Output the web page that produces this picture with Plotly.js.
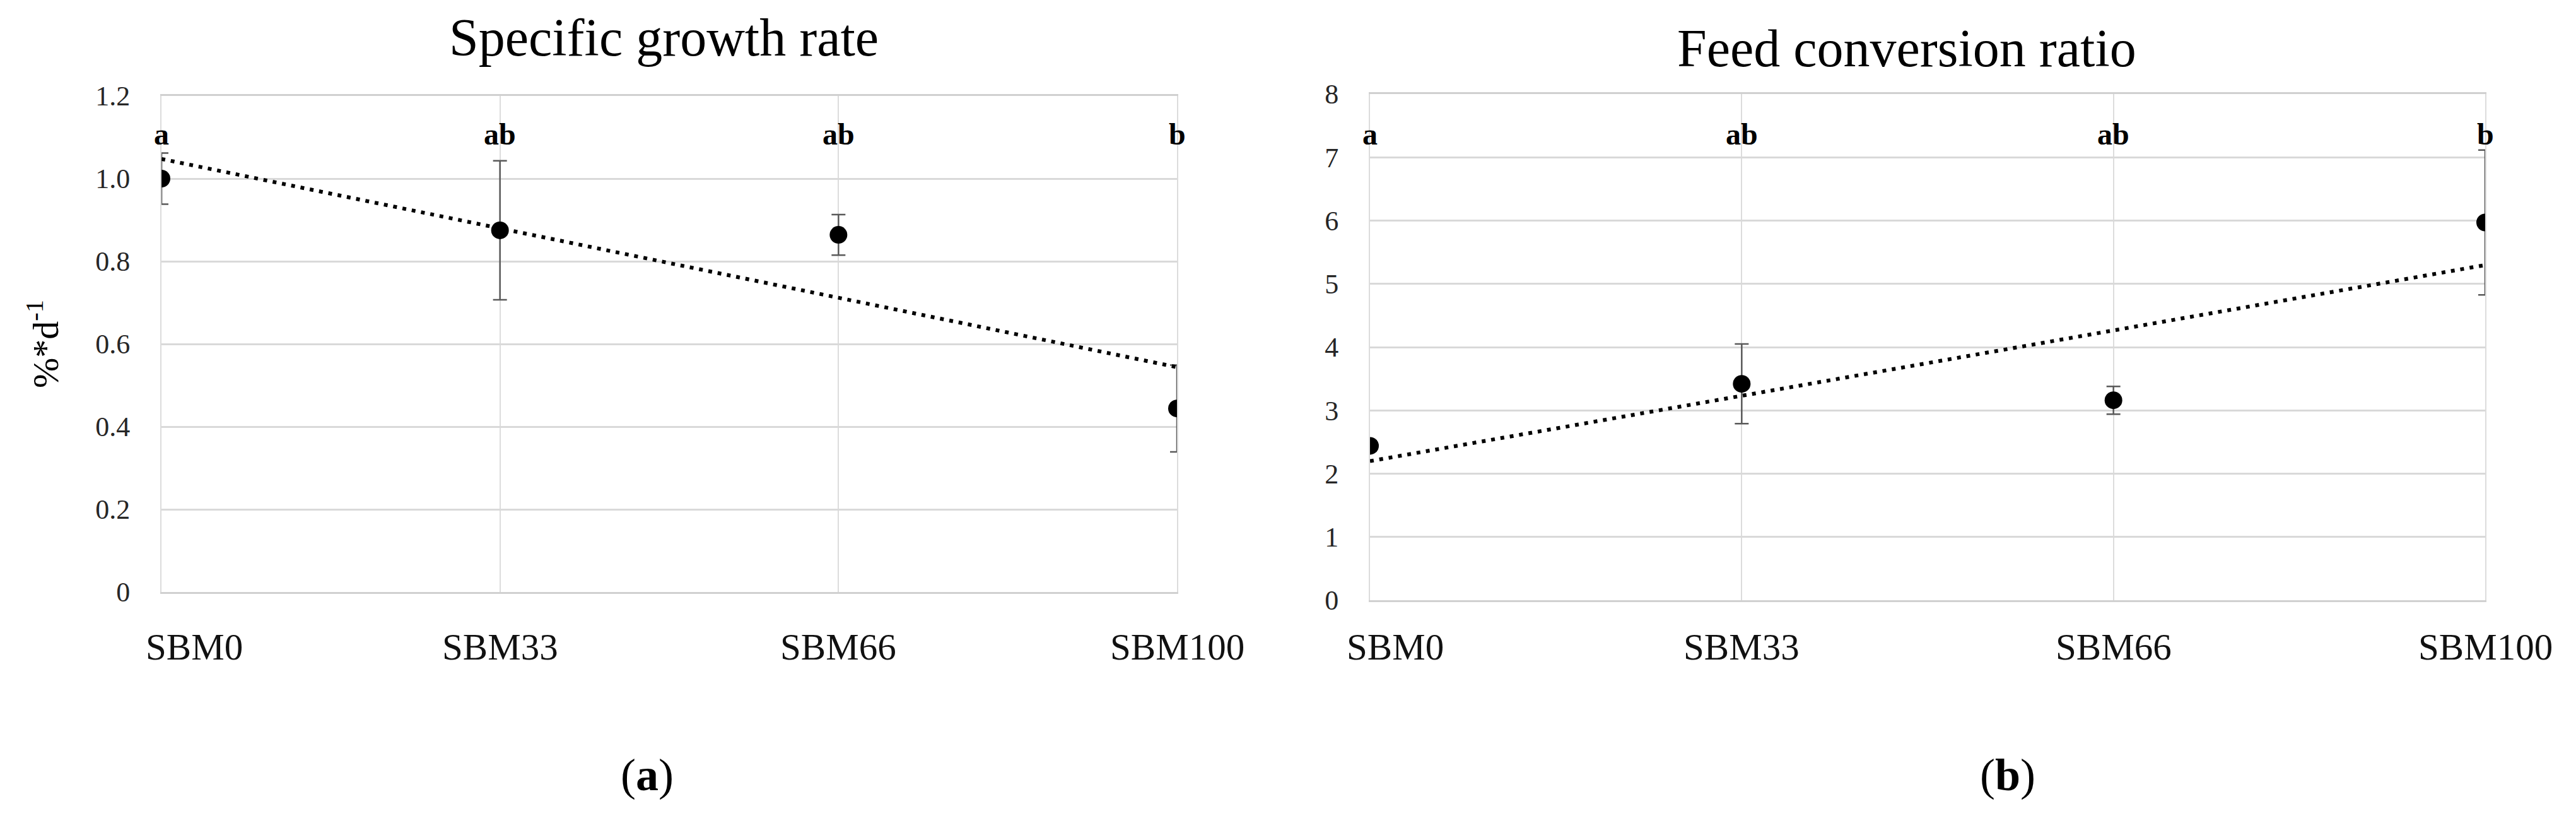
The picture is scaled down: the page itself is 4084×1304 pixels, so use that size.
<!DOCTYPE html>
<html><head><meta charset="utf-8">
<script src="https://cdn.plot.ly/plotly-3.0.1.min.js"></script>
<style>html,body{margin:0;padding:0;background:#fff}#chart{width:4084px;height:1304px}</style>
</head><body><div id="chart"></div>
<script>
// ---- data ----
const categories = ['SBM0', 'SBM33', 'SBM66', 'SBM100'];
const sgrMean = [1.00, 0.875, 0.864, 0.444];
const sgrErr = [0.062, 0.168, 0.049, 0.105];
const sgrLetters = ['a', 'ab', 'ab', 'b'];
const fcrMean = [2.44, 3.42, 3.16, 5.97];
const fcrErr = [0.08, 0.63, 0.22, 1.145];
const fcrLetters = ['a', 'ab', 'ab', 'b'];
const sgrTickVals = [0, 0.2, 0.4, 0.6, 0.8, 1.0, 1.2];
const sgrTickText = ['0', '0.2', '0.4', '0.6', '0.8', '1.0', '1.2'];
const fcrTickVals = [0, 1, 2, 3, 4, 5, 6, 7, 8];
const fcrTickText = ['0', '1', '2', '3', '4', '5', '6', '7', '8'];
const titleA = 'Specific growth rate';
const titleB = 'Feed conversion ratio';
const yTitleA = '%*d<sup>-1</sup>';

// linear (Excel-style) trendline from the data
function linFit(vals) {
  const n = vals.length;
  const xs = vals.map((_, i) => i);
  const mx = xs.reduce((a, b) => a + b, 0) / n;
  const my = vals.reduce((a, b) => a + b, 0) / n;
  let sxy = 0, sxx = 0;
  for (let i = 0; i < n; i++) { sxy += (xs[i] - mx) * (vals[i] - my); sxx += (xs[i] - mx) ** 2; }
  const slope = sxy / sxx;
  const icpt = my - slope * mx;
  return [icpt, icpt + slope * (n - 1)];
}

const FONT = 'Liberation Serif, Times New Roman, serif';
const errStyle = {type: 'data', visible: true, color: '#595959', thickness: 2.5, width: 11};

function traces(mean, err, xa, ya) {
  return [
    {type: 'scatter', mode: 'markers', x: categories, y: mean, xaxis: xa, yaxis: ya,
     error_y: Object.assign({array: err}, errStyle),
     marker: {color: '#000', size: 28}, showlegend: false},
    {type: 'scatter', mode: 'lines', x: [categories[0], categories[categories.length - 1]], y: linFit(mean),
     xaxis: xa, yaxis: ya, line: {color: '#000', width: 6, dash: '6px,9px'}, hoverinfo: 'skip', showlegend: false}
  ];
}

const data = [].concat(traces(sgrMean, sgrErr, 'x', 'y'), traces(fcrMean, fcrErr, 'x2', 'y2'));

function xAxis(domain, anchor) {
  return {domain: domain, anchor: anchor, type: 'category', range: [0, 3],
    categoryorder: 'array', categoryarray: categories,
    showgrid: true, gridcolor: '#dcdcdc', gridwidth: 2,
    showline: true, linecolor: '#d0d0d0', linewidth: 3, mirror: true,
    showticklabels: false, ticks: '', zeroline: false, automargin: false, fixedrange: true};
}
function yAxis(domain, anchor, range, tv, tt, title) {
  const ax = {domain: domain, anchor: anchor, range: range, tickvals: tv, ticktext: tt,
    showgrid: true, gridcolor: '#d9d9d9', gridwidth: 3,
    showline: true, linecolor: '#dcdcdc', linewidth: 2, mirror: true,
    zeroline: false, ticks: '', ticklabelstandoff: 39,
    tickfont: {family: FONT, size: 44, color: '#262626'}, automargin: false, fixedrange: true};
  if (title) ax.title = {text: title, font: {family: FONT, size: 58, color: '#000'}, standoff: 40};
  return ax;
}

const annotations = [];
// subplot titles
annotations.push({text: titleA, xref: 'paper', yref: 'paper', x: 1052 / 4084, y: 1 - 59 / 1304,
  xanchor: 'center', yanchor: 'middle', showarrow: false, font: {family: FONT, size: 84, color: '#000'}});
annotations.push({text: titleB, xref: 'paper', yref: 'paper', x: 3023 / 4084, y: 1 - 76 / 1304,
  xanchor: 'center', yanchor: 'middle', showarrow: false, font: {family: FONT, size: 84, color: '#000'}});
// significance letters and category labels
[[sgrLetters, 'x', 'y', 1.108, 52], [fcrLetters, 'x2', 'y2', 7.37, 40]].forEach(([letters, xa, ya, ly, shift0]) => {
  letters.forEach((t, i) => {
    annotations.push({text: '<b>' + t + '</b>', xref: xa, yref: ya, x: categories[i], y: ly,
      xanchor: 'center', yanchor: 'middle', showarrow: false, font: {family: FONT, size: 48, color: '#000'}});
    annotations.push({text: categories[i], xref: xa, yref: 'paper', x: categories[i], y: 1 - 1025 / 1304,
      xshift: i === 0 ? shift0 : 0, xanchor: 'center', yanchor: 'middle', showarrow: false,
      font: {family: FONT, size: 59, color: '#111'}});
  });
});
// panel labels
annotations.push({text: '(<b>a</b>)', xref: 'paper', yref: 'paper', x: 1026 / 4084, y: 1 - 1228 / 1304,
  xanchor: 'center', yanchor: 'middle', showarrow: false, font: {family: FONT, size: 72, color: '#000'}});
annotations.push({text: '(<b>b</b>)', xref: 'paper', yref: 'paper', x: 3183 / 4084, y: 1 - 1228 / 1304,
  xanchor: 'center', yanchor: 'middle', showarrow: false, font: {family: FONT, size: 72, color: '#000'}});

const layout = {
  width: 4084, height: 1304, margin: {l: 0, r: 0, t: 0, b: 0},
  paper_bgcolor: '#fff', plot_bgcolor: '#fff', showlegend: false,
  font: {family: FONT},
  xaxis: xAxis([256 / 4084, 1866 / 4084], 'y'),
  yaxis: yAxis([1 - 938 / 1304, 1 - 152 / 1304], 'x', [0, 1.2], sgrTickVals, sgrTickText, yTitleA),
  xaxis2: xAxis([2172 / 4084, 3940 / 4084], 'y2'),
  yaxis2: yAxis([1 - 951 / 1304, 1 - 149 / 1304], 'x2', [0, 8], fcrTickVals, fcrTickText, null),
  annotations: annotations
};

Plotly.newPlot('chart', data, layout, {displayModeBar: false, staticPlot: true});
</script>
</body></html>
